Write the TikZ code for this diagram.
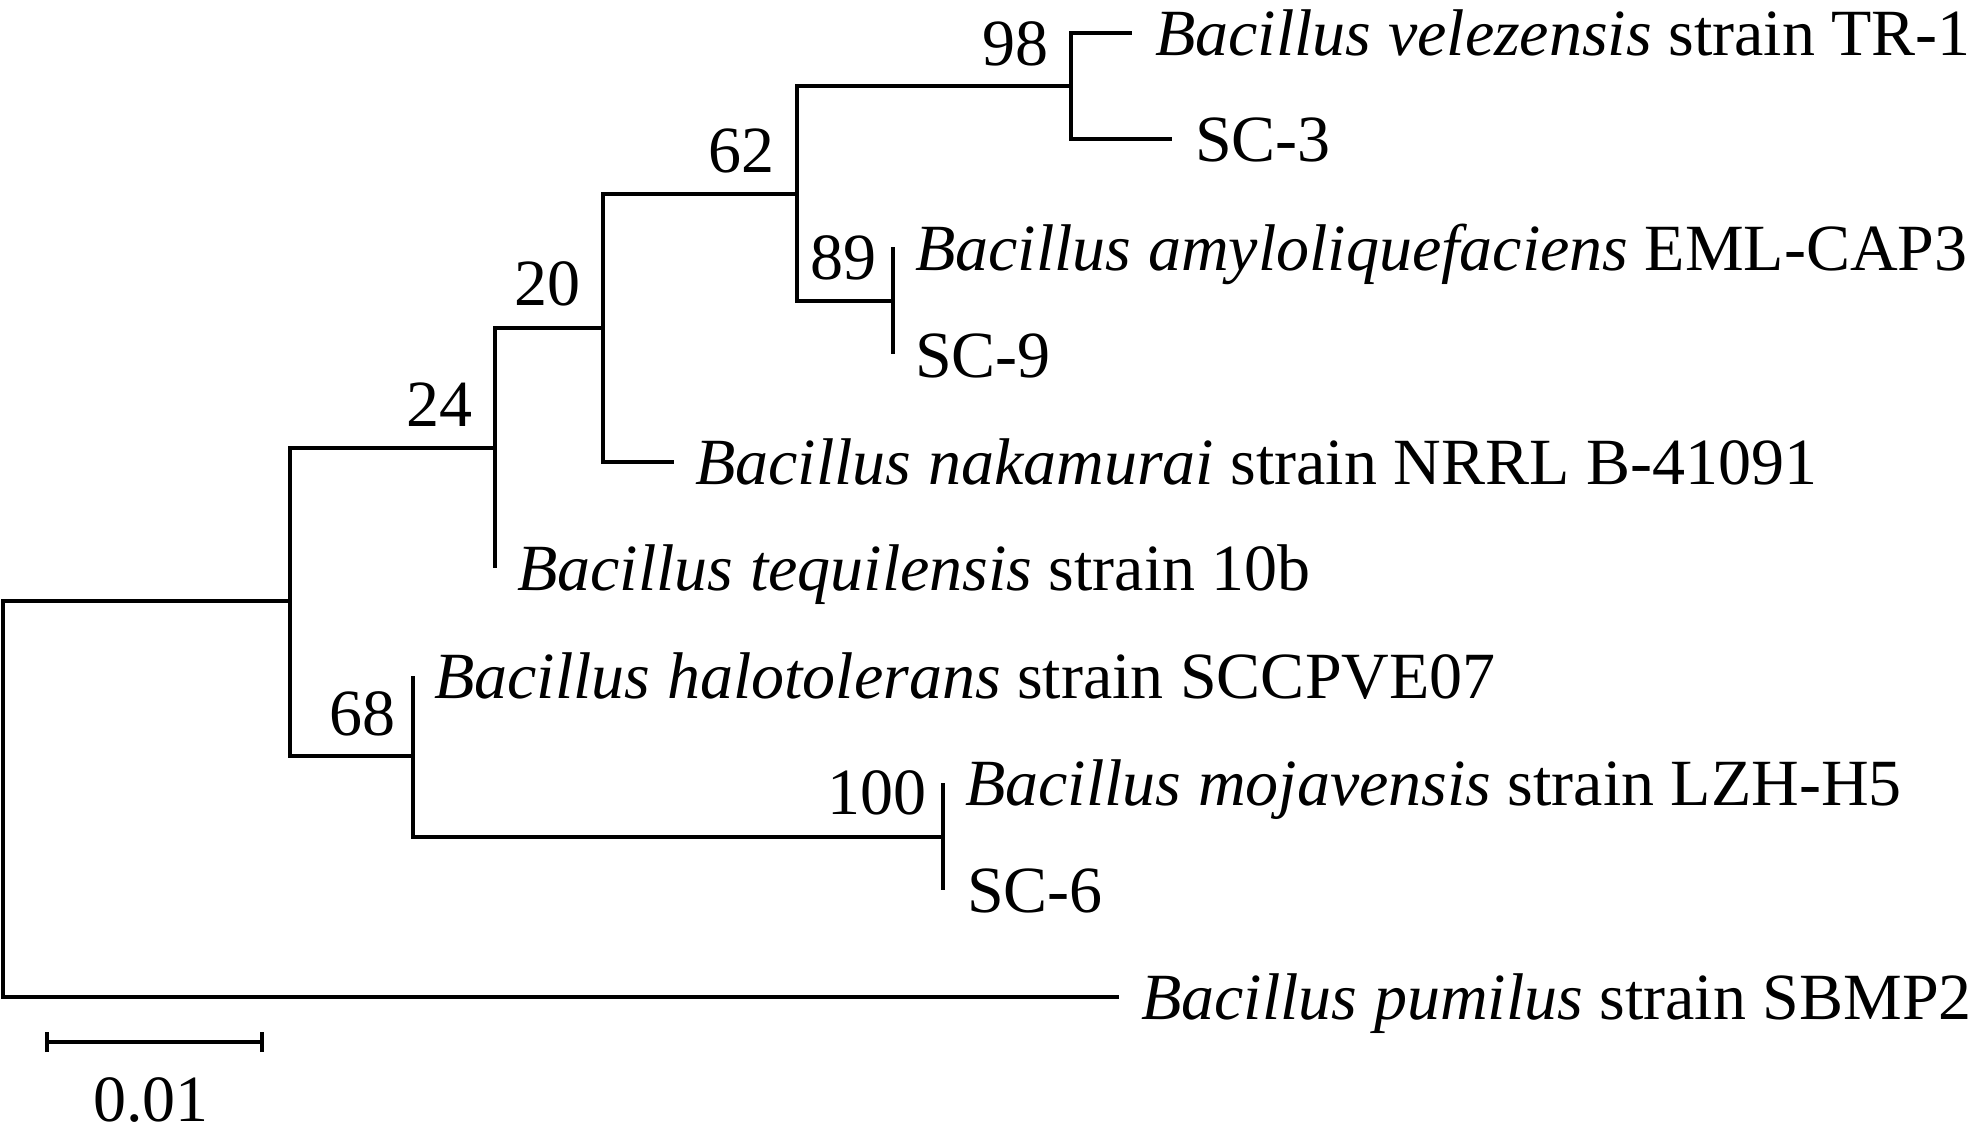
\documentclass[tikz,border=0pt]{standalone}
\usepackage{fontspec}
\setmainfont{Liberation Serif}
\begin{document}
\begin{tikzpicture}[x=1pt,y=-1pt,
  branch/.style={line width=4pt, line join=miter},
  leaflabel/.style={anchor=base west, inner sep=0pt, font=\fontsize{66}{80}\selectfont},
  boot/.style={anchor=base east, inner sep=0pt, font=\fontsize{66}{80}\selectfont},
  scalelabel/.style={anchor=base, inner sep=0pt, font=\fontsize{66}{80}\selectfont}]
\useasboundingbox (0,0) rectangle (1980,1141);
% internal nodes
\coordinate (R) at (3,800);
\coordinate (A) at (290,601);
\coordinate (B) at (495,447.5);
\coordinate (C) at (603,328);
\coordinate (D) at (797,194);
\coordinate (E) at (1071,86);
\coordinate (F) at (893,300.5);
\coordinate (G) at (413,756);
\coordinate (H) at (943,836.5);
% leaf tips
\coordinate (vel) at (1132,33);
\coordinate (sc3) at (1172,139);
\coordinate (amy) at (893,247);
\coordinate (sc9) at (893,354);
\coordinate (nak) at (674,462);
\coordinate (teq) at (495,568);
\coordinate (hal) at (413,676);
\coordinate (moj) at (943,783);
\coordinate (sc6) at (943,890);
\coordinate (pum) at (1119,997);
% branches
\draw[branch] (R) |- (A);
\draw[branch] (R) |- (pum);
\draw[branch] (A) |- (B);
\draw[branch] (A) |- (G);
\draw[branch] (B) |- (C);
\draw[branch] (B) |- (teq);
\draw[branch] (C) |- (D);
\draw[branch] (C) |- (nak);
\draw[branch] (D) |- (E);
\draw[branch] (D) |- (F);
\draw[branch] (E) |- (vel);
\draw[branch] (E) |- (sc3);
\draw[branch] (F) |- (amy);
\draw[branch] (F) |- (sc9);
\draw[branch] (G) |- (hal);
\draw[branch] (G) |- (H);
\draw[branch] (H) |- (moj);
\draw[branch] (H) |- (sc6);
% leaf labels
\node[leaflabel] (velL) at (1155,55) {\textit{Bacillus velezensis} strain TR-1};
\node[leaflabel] (sc3L) at (1195,161) {SC-3};
\node[leaflabel] (amyL) at (915,270) {\textit{Bacillus amyloliquefaciens} EML-CAP3};
\node[leaflabel] (sc9L) at (915,377) {SC-9};
\node[leaflabel] (nakL) at (695,484) {\textit{Bacillus nakamurai} strain NRRL B-41091};
\node[leaflabel] (teqL) at (517,590) {\textit{Bacillus tequilensis} strain 10b};
\node[leaflabel] (halL) at (434,698) {\textit{Bacillus halotolerans} strain SCCPVE07};
\node[leaflabel] (mojL) at (965,805) {\textit{Bacillus mojavensis} strain LZH-H5};
\node[leaflabel] (sc6L) at (967,912) {SC-6};
\node[leaflabel] (pumL) at (1141,1019) {\textit{Bacillus pumilus} strain SBMP2};
% bootstrap values
\node[boot] (bE) at (1049,65) {98};
\node[boot] (bD) at (775,172) {62};
\node[boot] (bC) at (581,305) {20};
\node[boot] (bB) at (473,426) {24};
\node[boot] (bF) at (877,279) {89};
\node[boot] (bG) at (396,735) {68};
\node[boot] (bH) at (927,814) {100};
% scale bar
\coordinate (sbL) at (47,1042);
\coordinate (sbR) at (262,1042);
\draw[line width=4pt] (sbL) -- (sbR);
\draw[line width=4pt] ([yshift=-10pt]sbL) -- ([yshift=10pt]sbL);
\draw[line width=4pt] ([yshift=-10pt]sbR) -- ([yshift=10pt]sbR);
\node[scalelabel] (sbT) at (151,1121) {0.01};
\end{tikzpicture}
\end{document}
